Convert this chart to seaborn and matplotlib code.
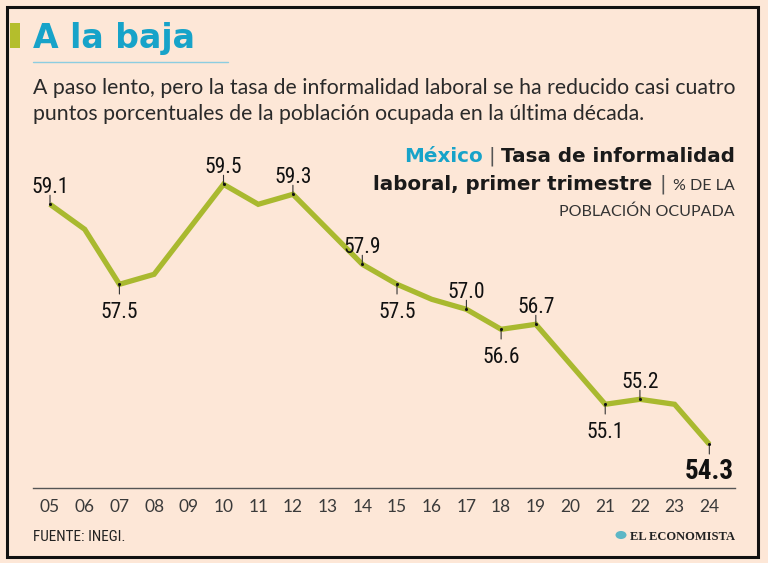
import matplotlib
matplotlib.use("Agg")
import matplotlib.pyplot as plt
import matplotlib.patches as mpatches
from matplotlib import font_manager as fm
import seaborn as sns
import pandas as pd

# ---------------- data ----------------
years = ["05", "06", "07", "08", "09", "10", "11", "12", "13", "14",
         "15", "16", "17", "18", "19", "20", "21", "22", "23", "24"]
values = [59.1, 58.6, 57.5, 57.7, 58.6, 59.5, 59.1, 59.3, 58.6, 57.9,
          57.5, 57.2, 57.0, 56.6, 56.7, 55.9, 55.1, 55.2, 55.1, 54.3]
labels_above = ["05", "10", "12", "14", "17", "19", "22"]
labels_below = ["07", "15", "18", "21"]
label_last = "24"

title = "A la baja"
subtitle = ["A paso lento, pero la tasa de informalidad laboral se ha reducido casi cuatro",
            "puntos porcentuales de la población ocupada en la última década."]
source = "FUENTE: INEGI."
brand = "EL ECONOMISTA"

# ---------------- style ----------------
BG = "#FDE7D7"
GREEN = "#A9B92F"
BLUE = "#17A3C9"
DARK = "#1A1A1A"

sns.set_theme(style="white")

names = {f.name for f in fm.fontManager.ttflist}
condensed_dejavu = any(f.name == "DejaVu Sans" and f.stretch in ("condensed", "semi-condensed")
                       for f in fm.fontManager.ttflist)
NARROW_KW = dict(family="Roboto", fontstretch="normal")
for cand in ["Liberation Sans Narrow", "Roboto Condensed", "Open Sans Condensed", "Noto Sans Condensed"]:
    if cand in names:
        NARROW_KW = dict(family=cand)
        break
else:
    if condensed_dejavu:
        NARROW_KW = dict(family="DejaVu Sans", fontstretch="condensed")
NARROW_SCALE = 1.0 if NARROW_KW["family"] != "Roboto" else 0.92

LIGHT = "Lato" if "Lato" in names else "DejaVu Sans"
BOLD = "DejaVu Sans"
SERIF = "Liberation Serif" if "Liberation Serif" in names else "DejaVu Serif"
plt.rcParams["font.family"] = [LIGHT, "DejaVu Sans"]

W, H = 768, 563
fig = plt.figure(figsize=(W / 100, H / 100), dpi=100, facecolor=BG)
renderer = fig.canvas.get_renderer()


def fx(x):
    return x / W


def fy(y):
    return 1 - y / H


def fit(t, width):
    bb = t.get_window_extent(renderer)
    t.set_fontsize(t.get_fontsize() * width / bb.width)
    return t.get_fontsize()


# frame
fig.patches.append(mpatches.Rectangle((fx(7), fy(557)), (758 - 7) / W, (557 - 7) / H,
                                      transform=fig.transFigure, fill=False,
                                      ec="#111111", lw=2.2))
# accent bar
fig.patches.append(mpatches.Rectangle((fx(10), fy(48)), 10 / W, 25 / H,
                                      transform=fig.transFigure, fc="#B4BE2C", ec="none"))
# title
t = fig.text(fx(33), fy(48), title, family=BOLD, weight="bold", color=BLUE,
             fontsize=22, ha="left", va="baseline")
fit(t, 162)
fig.add_artist(plt.Line2D([fx(33), fx(228)], [fy(62), fy(62)], transform=fig.transFigure,
                          color="#8CCDE0", lw=1.0))
# subtitle
s1 = fig.text(fx(33), fy(94), subtitle[0], family=LIGHT, weight="normal", color="#2A2A2A",
              fontsize=13, ha="left", va="baseline")
fs = fit(s1, 702)
fig.text(fx(33), fy(120), subtitle[1], family=LIGHT, weight="normal", color="#2A2A2A",
         fontsize=fs, ha="left", va="baseline")


# header (right aligned pieces); gap = space between a piece and the one on its left
def place_right(pieces, x_right, y_base):
    x = x_right
    for s, kw, gap in reversed(pieces):
        tt = fig.text(fx(x), fy(y_base), s, ha="right", va="baseline", **kw)
        bb = tt.get_window_extent(renderer)
        x = bb.x0 - gap


tmp = fig.text(0, 0, "laboral, primer trimestre", family=BOLD, weight="bold", fontsize=15)
bold_fs = fit(tmp, 280)
tmp.remove()
tmp = fig.text(0, 0, "POBLACIÓN OCUPADA", family=LIGHT, weight="normal", fontsize=11)
light_fs = fit(tmp, 175)
tmp.remove()

bold_kw = dict(family=BOLD, weight="bold", fontsize=bold_fs, color=DARK)
blue_kw = dict(family=BOLD, weight="bold", fontsize=bold_fs, color=BLUE)
pipe_kw = dict(family="DejaVu Sans", weight="normal", fontsize=bold_fs, color="#555555")
light_kw = dict(family=LIGHT, weight="normal", fontsize=light_fs, color="#333333")

place_right([("México", blue_kw, 0), ("|", pipe_kw, 6), ("Tasa de informalidad", bold_kw, 6)], 735, 162)
place_right([("laboral, primer trimestre", bold_kw, 0), ("|", pipe_kw, 7), ("% DE LA", light_kw, 7)], 735, 190)
place_right([("POBLACIÓN OCUPADA", light_kw, 0)], 735, 216)

# ---------------- chart ----------------
ax = fig.add_axes([fx(33), fy(488), (735 - 33) / W, (488 - 140) / H])
ax.set_facecolor("none")
df = pd.DataFrame({"year": years, "value": values})
df["x"] = range(len(df))
sns.lineplot(data=df, x="x", y="value", ax=ax, color=GREEN, lw=3.8,
             solid_joinstyle="miter", solid_capstyle="butt")

ax.set_xlim(-0.49, 19.74)
ax.set_ylim(53.426, 60.386)
ax.set_xticks(df["x"])
ax.set_xticklabels(years)
ax.set_yticks([])
ax.set_xlabel("")
ax.set_ylabel("")
for side in ["left", "top", "right"]:
    ax.spines[side].set_visible(False)
ax.spines["bottom"].set_color("#555555")
ax.spines["bottom"].set_linewidth(1.0)
ax.tick_params(axis="x", length=0, pad=8, labelsize=12.5, labelcolor="#3A3A3A")
for lbl in ax.get_xticklabels():
    lbl.set_family(LIGHT)
    lbl.set_fontweight("normal")

lab = df[df["year"].isin(labels_above + labels_below + [label_last])]
ax.scatter(lab["x"], lab["value"], s=5, color="#111111", zorder=5, linewidths=0)


def tick_and_label(xv, yv, up, txt, big=False):
    d = 6.5 if up else -7
    ax.annotate("", xy=(xv, yv), xytext=(0, d), textcoords="offset points",
                arrowprops=dict(arrowstyle="-", color="#333333", lw=0.8,
                                shrinkA=0, shrinkB=0))
    off = 7.9 if up else (-25.0 if big else -24.2)
    ax.annotate(txt, xy=(xv, yv), xytext=(0, off), textcoords="offset points",
                ha="center", va="baseline",
                fontsize=(19.5 if big else 15.5) * NARROW_SCALE,
                fontweight="bold" if big else "normal",
                color="#111111", **NARROW_KW)


for _, r in df.iterrows():
    if r["year"] in labels_above:
        tick_and_label(r["x"], r["value"], True, f"{r['value']:.1f}")
    elif r["year"] in labels_below:
        tick_and_label(r["x"], r["value"], False, f"{r['value']:.1f}")
    elif r["year"] == label_last:
        tick_and_label(r["x"], r["value"], False, f"{r['value']:.1f}", big=True)

# ---------------- footer ----------------
fig.text(fx(33), fy(541), source, fontsize=11 * NARROW_SCALE, color="#222222",
         ha="left", va="baseline", **NARROW_KW)
b = fig.text(fx(735), fy(540), brand, family=SERIF, weight="bold", fontsize=10,
             color="#222222", ha="right", va="baseline")
fit(b, 105)
fig.patches.append(mpatches.Circle((fx(621), fy(535)), 5.5 / W, transform=fig.transFigure,
                                   fc="#5DB7C6", ec="none"))

fig.savefig("out.png", dpi=100, facecolor=BG)
